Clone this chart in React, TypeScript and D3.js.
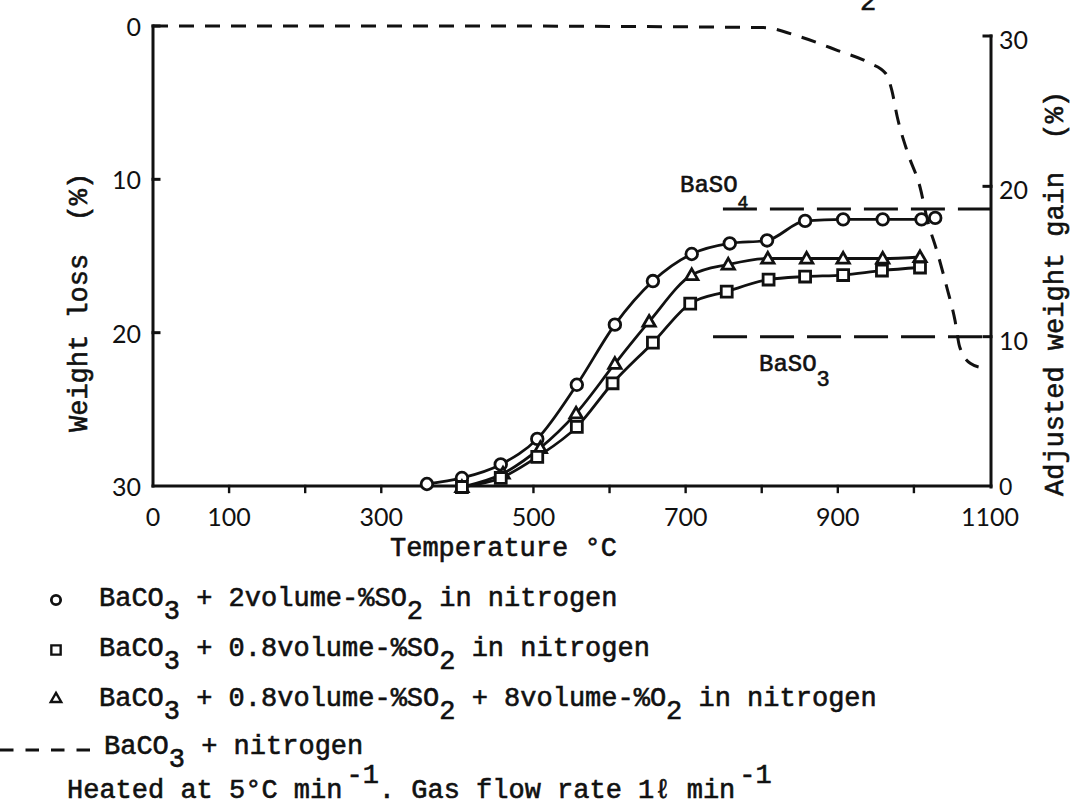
import * as d3 from "d3";

const WIDTH = 1077;
const HEIGHT = 806;

// x axis (temperature, °C)
const xTickValues = [100, 200, 300, 400, 500, 600, 700, 800, 900, 1000];
const xTickLabels = [0, 100, 300, 500, 700, 900, 1100];
// left axis: weight loss (%), right axis: adjusted weight gain (%)
const lossTicks = [0, 10, 20, 30];
const gainTicks = [0, 10, 20, 30];

// BaCO3 + 2volume-%SO2 in nitrogen (circles), adjusted weight gain %
const circleTemp = [360, 406, 457, 505, 557, 607, 657, 708, 758, 807, 857, 907, 959, 1010, 1028];
const circleGain = [0.2, 0.6, 1.5, 3.2, 6.8, 10.8, 13.7, 15.5, 16.2, 16.4, 17.7, 17.8, 17.8, 17.8, 17.9];

// BaCO3 + 0.8volume-%SO2 in nitrogen (squares)
const squareTemp = [406, 457, 505, 557, 604, 657, 706, 754, 809, 857, 907, 958, 1008];
const squareGain = [0, 0.6, 2.0, 4.0, 6.9, 9.6, 12.2, 13.0, 13.8, 14.0, 14.1, 14.4, 14.6];

// BaCO3 + 0.8volume-%SO2 + 8volume-%O2 in nitrogen (triangles)
const triangleTemp = [406, 460, 509, 556, 607, 652, 708, 756, 808, 859, 907, 959, 1008];
const triangleGain = [0, 0.9, 2.6, 4.9, 8.2, 11.0, 14.1, 14.8, 15.2, 15.2, 15.2, 15.2, 15.3];

// BaCO3 + nitrogen (dashed), weight loss %
const nitrogenTemp = [0, 400, 802, 850, 900, 941, 963, 971, 978, 992, 1008, 1018, 1031, 1043, 1054, 1060, 1074, 1091];
const nitrogenLoss = [0, 0, 0.1, 0.7, 1.6, 2.4, 3.1, 4.2, 5.9, 8.3, 10.5, 12.7, 14.8, 17.0, 19.2, 20.9, 22.0, 22.3];

// theoretical gain lines
const refNames = ["BaSO", "BaSO"];
const refSubs = ["4", "3"];
const refGain = [18.5, 10.0];
const refStartTemp = [749, 736];

const MONO = "'Liberation Mono', 'DejaVu Sans Mono', monospace";
const SANS = "Lato, 'Open Sans', sans-serif";
const INK = "#111";

type Pt = { t: number; v: number };
const zip = (t: number[], v: number[]): Pt[] => t.map((d, i) => ({ t: d, v: v[i] }));

const x = d3.scaleLinear().domain([0, 1100]).range([153, 990]);
const yLoss = d3.scaleLinear().domain([0, 30]).range([26, 486]);
const yGain = d3.scaleLinear().domain([0, 30]).range([487, 36]);

const gainLine = d3
  .line<Pt>()
  .x((d) => x(d.t))
  .y((d) => yGain(d.v))
  .curve(d3.curveMonotoneX);

const lossLine = d3
  .line<Pt>()
  .x((d) => x(d.t))
  .y((d) => yLoss(d.v))
  .curve(d3.curveMonotoneX);

const squarePath = d3.symbol(d3.symbolSquare, 120)();
const trianglePath = d3.symbol(d3.symbolTriangle, 66)();

function Marker({ kind, cx, cy, scale = 1 }: { kind: string; cx: number; cy: number; scale?: number }) {
  const common = { fill: "#fff", stroke: INK, strokeWidth: 2.8 };
  if (kind === "circle") return <circle cx={cx} cy={cy} r={5.8 * scale} {...common} />;
  if (kind === "square")
    return <path d={squarePath!} transform={`translate(${cx},${cy}) scale(${scale})`} {...common} />;
  return <path d={trianglePath!} transform={`translate(${cx},${cy + 1}) scale(${scale})`} {...common} />;
}

const series = [
  { kind: "circle", pts: zip(circleTemp, circleGain) },
  { kind: "triangle", pts: zip(triangleTemp, triangleGain) },
  { kind: "square", pts: zip(squareTemp, squareGain) },
];

const monoText = { fontFamily: MONO, fill: INK, stroke: INK, strokeWidth: 0.6 };
const SUB = 13;

export default function App() {
  const left = x(0);
  const right = x(1100) + 1;
  const bottom = yLoss(30);

  return (
    <div>
      <style>{"body{margin:0;background:#fff}"}</style>
      <svg width={WIDTH} height={HEIGHT} style={{ display: "block", background: "#fff" }}>
        {/* stray subscript from the cropped caption above */}
        <text x={860} y={10} fontSize={27} {...monoText}>
          2
        </text>

        {/* axes */}
        <g stroke={INK} strokeWidth={3} fill="none" strokeLinecap="square">
          <line x1={left} y1={yLoss(0)} x2={left} y2={bottom} />
          <line x1={left} y1={bottom} x2={right} y2={bottom} />
          <line x1={right} y1={yGain(30)} x2={right} y2={yGain(0)} />
          {lossTicks.slice(0, 3).map((v) => (
            <line key={`lt${v}`} x1={left} x2={left + 6} y1={yLoss(v)} y2={yLoss(v)} />
          ))}
          {gainTicks.slice(1).map((v) => (
            <line key={`rt${v}`} x1={right - 7} x2={right} y1={yGain(v)} y2={yGain(v)} />
          ))}
          {xTickValues.map((t) => (
            <line key={`xt${t}`} x1={x(t)} x2={x(t)} y1={bottom} y2={bottom + 6} strokeWidth={2.4} />
          ))}
        </g>

        {/* tick labels */}
        <g fontFamily={SANS} fontSize={25} fill={INK}>
          {xTickLabels.map((t) => (
            <text key={`xl${t}`} x={x(t)} y={526} textAnchor="middle">
              {t}
            </text>
          ))}
          {lossTicks.map((v) => (
            <text key={`ll${v}`} x={141} y={yLoss(v)} textAnchor="end" dominantBaseline="central">
              {v}
            </text>
          ))}
          {gainTicks.map((v) => (
            <text
              key={`rl${v}`}
              x={999}
              y={v === 0 ? yGain(v) - 1 : yGain(v) + 3}
              dominantBaseline="central"
              fontSize={v === 0 ? 23 : 25}
            >
              {v}
            </text>
          ))}
        </g>

        {/* axis titles */}
        <text x={390} y={556} fontSize={27} {...monoText}>
          Temperature °C
        </text>
        <text
          transform={`translate(80,432) rotate(-90)`}
          fontSize={27}
          dominantBaseline="central"
          {...monoText}
          style={{ whiteSpace: "pre" }}
        >
          {"Weight loss  (%)"}
        </text>
        <text
          transform={`translate(1056,496) rotate(-90)`}
          fontSize={27}
          dominantBaseline="central"
          {...monoText}
          style={{ whiteSpace: "pre" }}
        >
          {"Adjusted weight gain  (%)"}
        </text>

        {/* BaSO4 / BaSO3 reference lines */}
        {refGain.map((g, i) => (
          <line
            key={`ref${i}`}
            x1={x(refStartTemp[i])}
            x2={right}
            y1={yGain(g)}
            y2={yGain(g)}
            stroke={INK}
            strokeWidth={3}
            strokeDasharray="34,13"
          />
        ))}
        <text x={680} y={192} fontSize={24} {...monoText}>
          {refNames[0]}
          <tspan fontSize={18} dy={16}>
            {refSubs[0]}
          </tspan>
        </text>
        <text x={759} y={371} fontSize={24} {...monoText}>
          {refNames[1]}
          <tspan fontSize={22} dy={15}>
            {refSubs[1]}
          </tspan>
        </text>

        {/* BaCO3 + nitrogen */}
        <path
          d={lossLine(zip(nitrogenTemp, nitrogenLoss))!}
          fill="none"
          stroke={INK}
          strokeWidth={3}
          strokeDasharray="15,11"
        />

        {/* SO2 series */}
        {series.map((s) => (
          <path key={`l${s.kind}`} d={gainLine(s.pts)!} fill="none" stroke={INK} strokeWidth={2.8} />
        ))}
        {series.map((s) =>
          s.pts.map((p, i) => <Marker key={`${s.kind}${i}`} kind={s.kind} cx={x(p.t)} cy={yGain(p.v)} />)
        )}

        {/* legend */}
        <Marker kind="circle" cx={56} cy={600} scale={0.8} />
        <Marker kind="square" cx={56} cy={650} scale={0.85} />
        <Marker kind="triangle" cx={56} cy={698} scale={0.85} />
        <line x1={0} x2={92} y1={750} y2={750} stroke={INK} strokeWidth={3} strokeDasharray="13.5,12" />
        <g fontSize={27} style={{ whiteSpace: "pre" }} {...monoText}>
          <text x={99} y={606}>
            BaCO<tspan dy={SUB}>3</tspan>
            <tspan dy={-SUB}>{" + 2volume-%SO"}</tspan>
            <tspan dy={SUB}>2</tspan>
            <tspan dy={-SUB}>{" in nitrogen"}</tspan>
          </text>
          <text x={99} y={656}>
            BaCO<tspan dy={SUB}>3</tspan>
            <tspan dy={-SUB}>{" + 0.8volume-%SO"}</tspan>
            <tspan dy={SUB}>2</tspan>
            <tspan dy={-SUB}>{" in nitrogen"}</tspan>
          </text>
          <text x={99} y={706}>
            BaCO<tspan dy={SUB}>3</tspan>
            <tspan dy={-SUB}>{" + 0.8volume-%SO"}</tspan>
            <tspan dy={SUB}>2</tspan>
            <tspan dy={-SUB}>{" + 8volume-%O"}</tspan>
            <tspan dy={SUB}>2</tspan>
            <tspan dy={-SUB}>{" in nitrogen"}</tspan>
          </text>
          <text x={104} y={754}>
            BaCO<tspan dy={SUB}>3</tspan>
            <tspan dy={-SUB}>{" + nitrogen"}</tspan>
          </text>
          <text x={67} y={798}>
            {"Heated at 5°C min"}
            <tspan dy={-15} dx={4}>
              -1
            </tspan>
            <tspan dy={15}>{". Gas flow rate 1ℓ min"}</tspan>
            <tspan dy={-15} dx={4}>
              -1
            </tspan>
          </text>
        </g>
      </svg>
    </div>
  );
}
